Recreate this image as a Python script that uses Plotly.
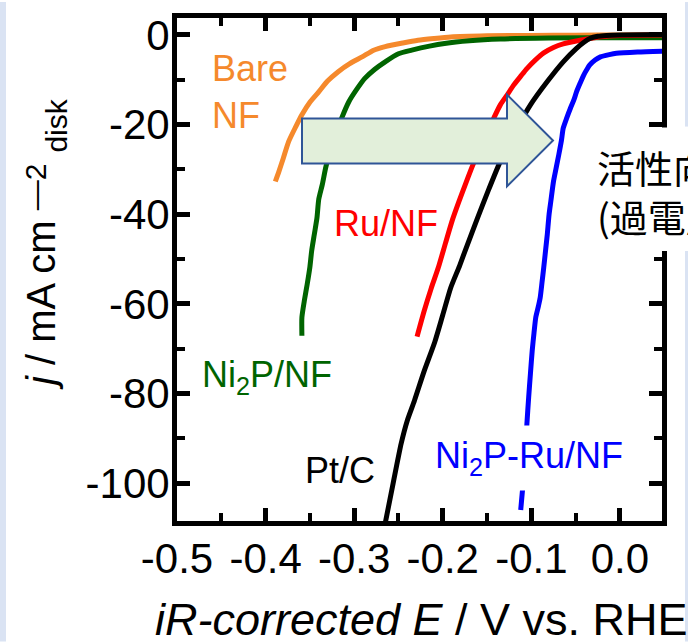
import plotly.graph_objects as go

# ---------------- data ----------------
bare_x = [-0.389, -0.385, -0.380, -0.374, -0.366, -0.359, -0.350, -0.340, -0.330, -0.318,
          -0.305, -0.291, -0.278, -0.265, -0.245, -0.228, -0.210, -0.191, -0.150, -0.100,
          -0.050, 0.000, 0.050]
bare_y = [-32.7, -30.5, -27.5, -23.8, -20.5, -17.8, -15.0, -12.7, -10.3, -8.2,
          -6.4, -4.9, -3.4, -2.6, -1.8, -1.2, -0.8, -0.45, -0.2, -0.1,
          -0.05, 0.0, 0.0]

ni2p_x = [-0.359, -0.359, -0.356, -0.353, -0.350, -0.348, -0.345, -0.342, -0.340, -0.336,
          -0.332, -0.327, -0.321, -0.314, -0.306, -0.297, -0.288, -0.277, -0.265, -0.250,
          -0.235, -0.215, -0.198, -0.170, -0.135, -0.080, 0.000, 0.050]
ni2p_y = [-67.1, -63.0, -59.0, -55.6, -51.8, -48.2, -44.5, -40.8, -36.7, -33.4,
          -29.5, -25.8, -22.3, -18.5, -14.9, -12.1, -9.7, -7.7, -6.0, -4.2,
          -3.4, -2.5, -1.9, -1.3, -0.9, -0.7, -0.6, -0.6]

ru_x = [-0.229, -0.221, -0.213, -0.205, -0.197, -0.189, -0.182, -0.175, -0.168, -0.159,
        -0.149, -0.142, -0.135, -0.127, -0.120, -0.112, -0.105, -0.095, -0.086, -0.075,
        -0.064, -0.045, -0.022, 0.000, 0.050]
ru_y = [-67.3, -61.6, -56.5, -51.9, -46.5, -41.2, -37.3, -33.6, -30.0, -25.6,
        -21.6, -18.4, -15.6, -13.3, -11.2, -9.2, -7.5, -5.5, -4.0, -2.8,
        -2.0, -1.2, -0.4, -0.1, 0.0]

ptc_x = [-0.265, -0.256, -0.247, -0.240, -0.232, -0.221, -0.209, -0.200, -0.191, -0.181,
         -0.172, -0.161, -0.149, -0.135, -0.116, -0.101, -0.082, -0.064, -0.049, -0.041,
         -0.034, -0.025, -0.015, 0.000, 0.050]
ptc_y = [-109.0, -100.0, -91.2, -86.0, -81.6, -75.0, -68.5, -62.5, -56.4, -51.5,
         -46.7, -41.0, -34.9, -28.2, -20.8, -15.6, -10.4, -6.0, -3.0, -1.7,
         -0.8, -0.3, -0.1, 0.0, 0.1]

ni2pru_x = [-0.112, -0.110, -0.107, -0.105, -0.103, -0.101, -0.099, -0.097, -0.095, -0.092,
            -0.090, -0.088, -0.086, -0.084, -0.082, -0.080, -0.078, -0.075, -0.072, -0.069,
            -0.066, -0.064, -0.060, -0.056, -0.052, -0.049, -0.045, -0.041, -0.037, -0.034,
            -0.028, -0.022, -0.012, -0.004, 0.020, 0.050]
ni2pru_y = [-106.0, -101.6, -94.0, -86.7, -80.8, -75.5, -70.4, -66.5, -63.0, -60.5,
            -58.6, -55.3, -51.9, -48.2, -44.5, -40.1, -37.1, -32.7, -29.7, -26.7,
            -23.5, -20.8, -18.5, -16.4, -14.5, -12.7, -10.8, -9.0, -7.6, -6.7,
            -5.6, -4.9, -4.4, -4.1, -3.8, -3.6]

x_tickvals = [-0.5, -0.4, -0.3, -0.2, -0.1, 0.0]
x_ticktext = ["-0.5", "-0.4", "-0.3", "-0.2", "-0.1", "0.0"]
y_tickvals = [0, -20, -40, -60, -80, -100]
y_ticktext = ["0", "-20", "-40", "-60", "-80", "-100"]

# ---------------- layout geometry ----------------
W, H = 688, 642
L, R, T, B = 177, 26, 16, 121
X_RANGE = [-0.5, 0.0475]
Y_RANGE = [-108.44, 3.78]
PW, PH = W - L - R, H - T - B


def px(xpix):
    return (xpix - L) / PW


def py(ypix):
    return (H - B - ypix) / PH


FONT = "Liberation Sans, Arial, sans-serif"
CJK = "Noto Sans CJK JP, sans-serif"

fig = go.Figure()
series = [
    (bare_x, bare_y, "#f5892c", "Bare NF"),
    (ni2p_x, ni2p_y, "#006400", "Ni2P/NF"),
    (ru_x, ru_y, "#ff0000", "Ru/NF"),
    (ptc_x, ptc_y, "#000000", "Pt/C"),
    (ni2pru_x, ni2pru_y, "#0000ff", "Ni2P-Ru/NF"),
]
for xs, ys, col, name in series:
    fig.add_trace(go.Scatter(x=xs, y=ys, mode="lines", name=name,
                             line=dict(color=col, width=5, shape="spline", smoothing=0.6),
                             showlegend=False))

axis_common = dict(
    showline=True, linecolor="black", linewidth=5, mirror="allticks",
    ticks="inside", ticklen=13, tickwidth=5, tickcolor="black",
    showgrid=False, zeroline=False,
    tickfont=dict(family=FONT, size=42, color="black"),
)
fig.update_xaxes(range=X_RANGE, tickmode="array", tickvals=x_tickvals, ticktext=x_ticktext,
                 minor=dict(tickmode="linear", tick0=0, dtick=0.05, ticks="inside",
                            ticklen=8, tickwidth=4, tickcolor="black"),
                 ticklabelstandoff=-3, **axis_common)
fig.update_yaxes(range=Y_RANGE, tickmode="array", tickvals=y_tickvals, ticktext=y_ticktext,
                 minor=dict(tickmode="linear", tick0=0, dtick=10, ticks="inside",
                            ticklen=8, tickwidth=4, tickcolor="black"),
                 ticklabelstandoff=-6, **axis_common)

shapes = []
# slide background strips
shapes.append(dict(type="rect", xref="paper", yref="paper", x0=px(0), x1=px(6), y0=py(0), y1=py(H),
                   fillcolor="#dae3f3", line=dict(width=0), layer="above"))
shapes.append(dict(type="rect", xref="paper", yref="paper", x0=px(685), x1=px(W), y0=py(0), y1=py(125),
                   fillcolor="#dae3f3", line=dict(width=0), layer="above"))
shapes.append(dict(type="rect", xref="paper", yref="paper", x0=px(685), x1=px(W), y0=py(250), y1=py(H),
                   fillcolor="#dae3f3", line=dict(width=0), layer="above"))
# white text box covering the right axis
shapes.append(dict(type="rect", xref="paper", yref="paper", x0=px(640), x1=px(W), y0=py(126), y1=py(250),
                   fillcolor="white", line=dict(width=0), layer="above"))
# block arrow
pts = [(302, 117), (507, 117), (507, 93), (553, 139), (507, 185), (507, 162), (302, 162)]
path = "M " + " L ".join(f"{px(a):.5f},{py(b):.5f}" for a, b in pts) + " Z"
shapes.append(dict(type="path", xref="paper", yref="paper", path=path,
                   fillcolor="#e2efda", line=dict(color="#2f5597", width=2), layer="above"))
fig.update_layout(shapes=shapes)

ann = []


def label(text, x, y, color, size=36, xanchor="center", yanchor="middle", family=FONT, **kw):
    ann.append(dict(text=text, x=px(x), y=py(y), xref="paper", yref="paper", showarrow=False,
                    xanchor=xanchor, yanchor=yanchor, align="left",
                    font=dict(family=family, size=size, color=color), **kw))


label("Bare<br>NF", 210, 90, "#f5892c", xanchor="left")
label("Ru/NF", 386, 222, "#ff0000")
label("Ni<sub>2</sub>P/NF", 200, 376, "#006400", xanchor="left")
label("Pt/C", 340, 470, "#000000")
label("Ni<sub>2</sub>P-Ru/NF", 529, 458, "#0000ff", bgcolor="white", borderpad=9)
label("活性向上<br>(過電圧低下)", 595, 190, "#000000", size=38, xanchor="left", family=CJK)
# y-axis title (main text, superscript, subscript)
label("<i>j</i> / mA cm", 41, 392, "#000000", size=40, yanchor="bottom", textangle=-90)
label("—2", 35, 186, "#000000", size=30, textangle=-90)
label("disk", 57, 124, "#000000", size=30, textangle=-90)
# x-axis title
label("<i>iR-corrected E</i> / V vs. RHE", 421, 620, "#000000", size=45)
fig.update_layout(annotations=ann)

fig.update_layout(
    width=W, height=H, autosize=False,
    margin=dict(l=L, r=R, t=T, b=B, pad=0),
    paper_bgcolor="white", plot_bgcolor="white",
    font=dict(family=FONT, color="black"),
)
fig.write_html("out.html")
